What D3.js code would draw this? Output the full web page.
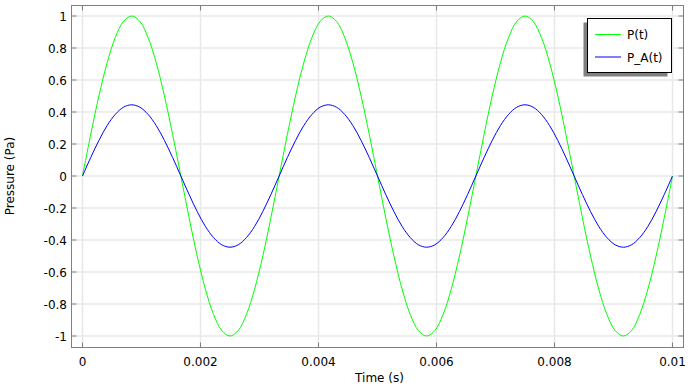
<!DOCTYPE html>
<html>
<head>
<meta charset="utf-8">
<script src="https://cdn.jsdelivr.net/npm/d3@7"></script>
<style>
  body { margin: 0; background: #fff; }
  text { font-family: "DejaVu Sans", sans-serif; }
</style>
</head>
<body>
<div id="chart"></div>
<script>
// Time samples (s)
const times = [
  0, 0.000139, 0.000278, 0.000417, 0.000556, 0.000694, 0.000833, 0.000972,
  0.001111, 0.00125, 0.001389, 0.001528, 0.001667, 0.001806, 0.001944, 0.002083,
  0.002222, 0.002361, 0.0025, 0.002639, 0.002778, 0.002917, 0.003056, 0.003194,
  0.003333, 0.003472, 0.003611, 0.00375, 0.003889, 0.004028, 0.004167, 0.004306,
  0.004444, 0.004583, 0.004722, 0.004861, 0.005, 0.005139, 0.005278, 0.005417,
  0.005556, 0.005694, 0.005833, 0.005972, 0.006111, 0.00625, 0.006389, 0.006528,
  0.006667, 0.006806, 0.006944, 0.007083, 0.007222, 0.007361, 0.0075, 0.007639,
  0.007778, 0.007917, 0.008056, 0.008194, 0.008333, 0.008472, 0.008611, 0.00875,
  0.008889, 0.009028, 0.009167, 0.009306, 0.009444, 0.009583, 0.009722, 0.009861,
  0.01
];

// P(t), green
const pValues = [
  0, 0.259, 0.5, 0.707, 0.866, 0.966, 1, 0.966, 0.866, 0.707, 0.5, 0.259,
  0, -0.259, -0.5, -0.707, -0.866, -0.966, -1, -0.966, -0.866, -0.707, -0.5, -0.259,
  0, 0.259, 0.5, 0.707, 0.866, 0.966, 1, 0.966, 0.866, 0.707, 0.5, 0.259,
  0, -0.259, -0.5, -0.707, -0.866, -0.966, -1, -0.966, -0.866, -0.707, -0.5, -0.259,
  0, 0.259, 0.5, 0.707, 0.866, 0.966, 1, 0.966, 0.866, 0.707, 0.5, 0.259,
  0, -0.259, -0.5, -0.707, -0.866, -0.966, -1, -0.966, -0.866, -0.707, -0.5, -0.259,
  0
];

// P_A(t), blue
const paValues = [
  0, 0.115, 0.222, 0.315, 0.385, 0.43, 0.445, 0.43, 0.385, 0.315, 0.222, 0.115,
  0, -0.115, -0.222, -0.315, -0.385, -0.43, -0.445, -0.43, -0.385, -0.315, -0.222, -0.115,
  0, 0.115, 0.222, 0.315, 0.385, 0.43, 0.445, 0.43, 0.385, 0.315, 0.222, 0.115,
  0, -0.115, -0.222, -0.315, -0.385, -0.43, -0.445, -0.43, -0.385, -0.315, -0.222, -0.115,
  0, 0.115, 0.222, 0.315, 0.385, 0.43, 0.445, 0.43, 0.385, 0.315, 0.222, 0.115,
  0, -0.115, -0.222, -0.315, -0.385, -0.43, -0.445, -0.43, -0.385, -0.315, -0.222, -0.115,
  0
];

const xTicks = [0, 0.002, 0.004, 0.006, 0.008, 0.01];
const yTicks = [-1, -0.8, -0.6, -0.4, -0.2, 0, 0.2, 0.4, 0.6, 0.8, 1];
const seriesNames = ["P(t)", "P_A(t)"];
const colors = { "P(t)": "#00ff00", "P_A(t)": "#0000ff" };

const width = 690, height = 388;
const frame = { left: 71.5, right: 683.5, top: 5.5, bottom: 347.5 };

const svg = d3.select("#chart")
  .append("svg")
  .attr("width", width)
  .attr("height", height);

const x = d3.scaleLinear().domain([0, 0.01]).range([82.5, 672.5]);
const y = d3.scaleLinear().domain([-1, 1]).range([336, 16]);

// Grid
svg.append("g")
  .selectAll("line.vgrid")
  .data(xTicks)
  .enter().append("line")
  .attr("x1", d => x(d)).attr("x2", d => x(d))
  .attr("y1", frame.top).attr("y2", frame.bottom)
  .attr("stroke", "#e8e8e8").attr("stroke-width", 1.5);

svg.append("g")
  .selectAll("line.hgrid")
  .data(yTicks)
  .enter().append("line")
  .attr("x1", frame.left).attr("x2", frame.right)
  .attr("y1", d => y(d)).attr("y2", d => y(d))
  .attr("stroke", "#e8e8e8").attr("stroke-width", 1.5);

// Lines
const data = times.map((t, i) => ({ t: t, "P(t)": pValues[i], "P_A(t)": paValues[i] }));

seriesNames.forEach(function(name) {
  const line = d3.line()
    .x(d => x(d.t))
    .y(d => y(d[name]))
    .curve(d3.curveCatmullRom);
  svg.append("path")
    .datum(data)
    .attr("fill", "none")
    .attr("stroke", colors[name])
    .attr("stroke-width", 1)
    .attr("d", line);
});

// Frame
svg.append("rect")
  .attr("x", frame.left).attr("y", frame.top)
  .attr("width", frame.right - frame.left)
  .attr("height", frame.bottom - frame.top)
  .attr("fill", "none")
  .attr("stroke", "#808080");

// Inner ticks on all four sides
const tickLen = 5;
const ticks = svg.append("g").attr("stroke", "#808080");
xTicks.forEach(function(d) {
  ticks.append("line").attr("x1", x(d)).attr("x2", x(d))
    .attr("y1", frame.bottom).attr("y2", frame.bottom - tickLen);
  ticks.append("line").attr("x1", x(d)).attr("x2", x(d))
    .attr("y1", frame.top).attr("y2", frame.top + tickLen);
});
yTicks.forEach(function(d) {
  ticks.append("line").attr("y1", y(d)).attr("y2", y(d))
    .attr("x1", frame.left).attr("x2", frame.left + tickLen);
  ticks.append("line").attr("y1", y(d)).attr("y2", y(d))
    .attr("x1", frame.right).attr("x2", frame.right - tickLen);
});

// Tick labels
svg.append("g")
  .selectAll("text")
  .data(xTicks)
  .enter().append("text")
  .attr("x", d => x(d))
  .attr("y", 366)
  .attr("text-anchor", "middle")
  .style("font-size", "12px")
  .text(d => d3.format("~g")(d));

svg.append("g")
  .selectAll("text")
  .data(yTicks)
  .enter().append("text")
  .attr("x", 67)
  .attr("y", d => y(d) + 4.5)
  .attr("text-anchor", "end")
  .style("font-size", "12px")
  .text(d => d3.format("~g")(d).replace("−", "-"));

// Axis titles
svg.append("text")
  .attr("x", 379.5)
  .attr("y", 382)
  .attr("text-anchor", "middle")
  .style("font-size", "12px")
  .text("Time (s)");

svg.append("text")
  .attr("transform", "translate(14,176) rotate(-90)")
  .attr("text-anchor", "middle")
  .style("font-size", "12px")
  .text("Pressure (Pa)");

// Legend with shadow
const legend = svg.append("g");
legend.append("rect")
  .attr("x", 583.5).attr("y", 22.5)
  .attr("width", 84).attr("height", 54)
  .attr("fill", "#808080");
legend.append("rect")
  .attr("x", 587.5).attr("y", 18.5)
  .attr("width", 84).attr("height", 54)
  .attr("fill", "#fff")
  .attr("stroke", "#000");

seriesNames.forEach(function(name, i) {
  const ly = 34.5 + i * 22.5;
  legend.append("line")
    .attr("x1", 595).attr("x2", 621)
    .attr("y1", ly).attr("y2", ly)
    .attr("stroke", colors[name]);
  legend.append("text")
    .attr("x", 627)
    .attr("y", ly + 4.5)
    .style("font-size", "12px")
    .text(name);
});
</script>
</body>
</html>
